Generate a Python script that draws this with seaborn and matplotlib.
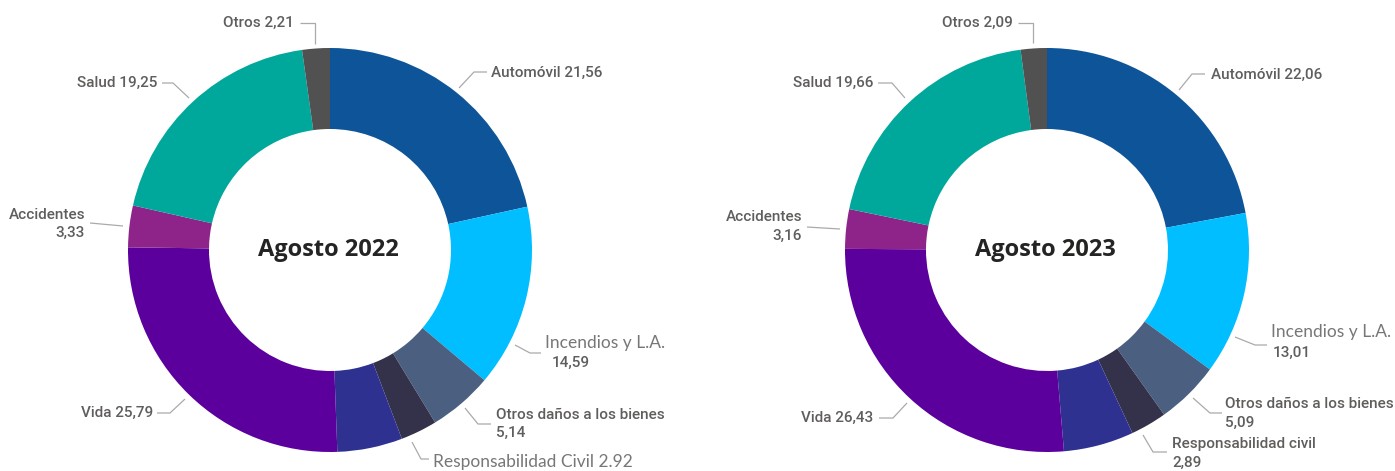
"""
Donut charts: distribución de primas por ramo, agosto 2022 vs agosto 2023.
"""
import matplotlib.pyplot as plt
import seaborn as sns

W, H = 1395, 471

categories = [
    "Automóvil",
    "Incendios y L.A.",
    "Otros daños a los bienes",
    "Responsabilidad Civil",
    "Transportes",
    "Vida",
    "Accidentes",
    "Salud",
    "Otros",
]
values_2022 = [21.56, 14.59, 5.14, 2.92, 5.21, 25.79, 3.33, 19.25, 2.21]
values_2023 = [22.06, 13.01, 5.09, 2.89, 5.61, 26.43, 3.16, 19.66, 2.09]
titles = ["Agosto 2022", "Agosto 2023"]
colors = [
    "#0E5499", "#00BEFF", "#4B6080", "#34324A", "#2E3190",
    "#5B009D", "#8E2489", "#00A89C", "#515151",
]

sns.set_theme(style="white")
palette = sns.color_palette(colors)

FONTS = {
    "din": dict(family=["Roboto", "DejaVu Sans"], size=11, color="#605E5C",
                fontweight="medium"),
    "light": dict(family=["Lato", "DejaVu Sans"], size=12.5, color="#777777"),
}

# layout in pixel coords (origin top-left): text pieces and leader polylines
layout_2022 = [
    ("Automóvil", [("{n} {v}", 491, 73, "din", "left")],
     [(459, 88), (474, 72), (487, 72)]),
    ("Incendios y L.A.", [("{n}", 545, 343, "light", "left"),
                          ("{v}", 552, 363, "din", "left")],
     [(515, 345), (530, 353), (541, 353)]),
    ("Otros daños a los bienes", [("{n}", 496, 415, "din", "left"),
                                  ("{v}", 496, 433, "din", "left")],
     [(465, 408), (478, 424), (491, 424)]),
    ("Responsabilidad Civil", [("{n} {vd}", 433, 462, "light", "left")],
     [(412, 442), (421, 459), (429, 459)]),
    ("Vida", [("{n} {v}", 153, 413, "din", "right")],
     [(157, 413), (170, 413), (185, 399)]),
    ("Accidentes", [("{n}", 85, 215, "din", "right"),
                    ("{v}", 85, 233, "din", "right")],
     [(90, 223), (123, 226)]),
    ("Salud", [("{n} {v}", 157, 83, "din", "right")],
     [(162, 83), (173, 83), (189, 98)]),
    ("Otros", [("{n} {v}", 294, 23, "din", "right")],
     [(300, 23), (315, 23), (315, 44)]),
]
layout_2023 = [
    ("Automóvil", [("{n} {v}", 1211, 75, "din", "left")],
     [(1179, 90), (1192, 74), (1205, 74)]),
    ("Incendios y L.A.", [("{n}", 1271, 332, "light", "left"),
                          ("{v}", 1273, 353, "din", "left")],
     [(1235, 337), (1255, 345), (1267, 345)]),
    ("Otros daños a los bienes", [("{n}", 1225, 404, "din", "left"),
                                  ("{v}", 1225, 423, "din", "left")],
     [(1193, 398), (1210, 413), (1222, 413)]),
    ("Responsabilidad Civil", [("Responsabilidad civil", 1172, 444, "din", "left"),
                               ("{v}", 1172, 463, "din", "left")],
     [(1143, 435), (1153, 452), (1167, 452)]),
    ("Vida", [("{n} {v}", 873, 418, "din", "right")],
     [(879, 418), (893, 418), (907, 403)]),
    ("Accidentes", [("{n}", 802, 217, "din", "right"),
                    ("{v}", 802, 236, "din", "right")],
     [(807, 227), (840, 229)]),
    ("Salud", [("{n} {v}", 873, 83, "din", "right")],
     [(878, 83), (892, 83), (905, 98)]),
    ("Otros", [("{n} {v}", 1013, 23, "din", "right")],
     [(1018, 23), (1033, 23), (1033, 43)]),
]

charts = [
    (values_2022, titles[0], (330, 250), layout_2022),
    (values_2023, titles[1], (1047, 250), layout_2023),
]
RADIUS = 202
RING = 81

fig = plt.figure(figsize=(W / 100, H / 100), dpi=100)
ax = fig.add_axes([0, 0, 1, 1])

for values, title, (cx, cy), layout in charts:
    ax.pie(
        values,
        colors=palette,
        startangle=90,
        counterclock=False,
        radius=RADIUS,
        center=(cx, H - cy),
        wedgeprops=dict(width=RING, edgecolor="none", linewidth=0),
    )
    ax.text(cx - 2, H - cy, title, ha="center", va="center",
            family=["Open Sans", "DejaVu Sans"], fontweight="bold",
            fontsize=17, color="#252423")

    for cat, pieces, leader in layout:
        v = values[categories.index(cat)]
        fmt = dict(n=cat, v=f"{v:.2f}".replace(".", ","), vd=f"{v:.2f}")
        for tmpl, tx, ty, font, ha in pieces:
            ax.text(tx, H - ty, tmpl.format(**fmt), ha=ha, va="center",
                    **FONTS[font])
        xs = [p[0] for p in leader]
        ys = [H - p[1] for p in leader]
        ax.plot(xs, ys, color="#AAAAAA", lw=0.9, solid_capstyle="butt")

ax.set_xlim(0, W)
ax.set_ylim(0, H)
ax.set_aspect("equal")
ax.axis("off")

fig.savefig("out.png", dpi=100)
plt.close(fig)
